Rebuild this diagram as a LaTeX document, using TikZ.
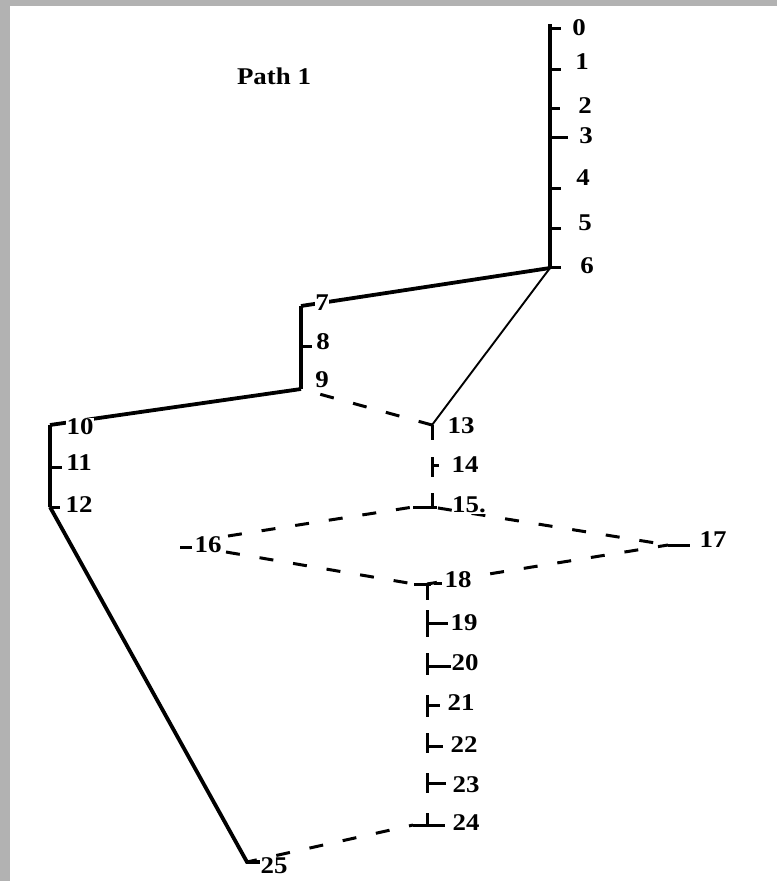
\documentclass[tikz,border=0pt]{standalone}
\usepackage{fontspec}
\setmainfont{Liberation Serif}[FakeStretch=1.12]
\definecolor{framegray}{RGB}{178,178,178}
\begin{document}
\begin{tikzpicture}[x=1pt,y=-1pt,
  heavy/.style={line width=4.8pt},
  mid/.style={line width=3.8pt},
  thinline/.style={line width=1.9pt},
  dline/.style={line width=3pt, dash pattern=on 14pt off 20pt},
  tickmark/.style={line width=3pt},
  lab/.style={font=\fontsize{24}{26}\selectfont\bfseries, inner sep=0.5pt},
  labw/.style={lab, fill=white}]
\fill[framegray] (0,0) rectangle (777,881);
\fill[white] (10,6) rectangle (777,881);
\useasboundingbox (0,0) rectangle (777,881);

% title
\node[lab] (title) at (274,76) {Path 1};

% vertices
\coordinate (p0) at (550,24);
\coordinate (p6) at (550,268);
\coordinate (p7) at (301,306);
\coordinate (p9) at (301,389);
\coordinate (p10) at (50,425);
\coordinate (p12) at (50,507);
\coordinate (p25) at (247,862);
\coordinate (p25e) at (260,862);
\coordinate (p13) at (432,425);
\coordinate (p15) at (432,507);
\coordinate (p15w) at (413,507);
\coordinate (p16u) at (228,536);
\coordinate (p16d) at (226,552);
\coordinate (p17) at (668,545);
\coordinate (p18) at (427,584);
\coordinate (p18w) at (414,584);
\coordinate (p24) at (427,825);
\coordinate (p24w) at (413,825);

% main vertical 0-6
\draw[heavy] (p0) -- (p6);
\foreach \yy/\xx in {28/561,69/561,108/560,137/568,188/561,228/561,267/561}
  \draw[tickmark] (550,\yy) -- (\xx,\yy);
\node[lab] (l0) at (579,28) {0};
\node[lab] (l1) at (582,62) {1};
\node[lab] (l2) at (585,106) {2};
\node[lab] (l3) at (586,136) {3};
\node[lab] (l4) at (583,178) {4};
\node[lab] (l5) at (585,223) {5};
\node[lab] (l6) at (587,266) {6};

% 6 -> 7, 7-9
\draw[mid] (p6) -- (p7);
\draw[mid] (p7) -- (p9);
\draw[tickmark] (301,346) -- (312,346);
\node[labw] (l7) at (322,303) {7};
\node[lab] (l8) at (323,342) {8};
\node[lab] (l9) at (322,380) {9};

% 9 -> 10, 10-12, 12 -> 25
\draw[mid] (p9) -- (p10);
\draw[mid] (p10) -- (p12);
\draw[mid] (p12) -- (p25) -- (p25e);
\draw[tickmark] (50,467) -- (62,467);
\draw[tickmark] (50,507) -- (60,507);
\node[labw] (l10) at (80,427) {10};
\node[lab] (l11) at (79,463) {11};
\node[lab] (l12) at (79,505) {12};

% 6 -> 13 and 9 -> 13
\draw[thinline] (p6) -- (p13);
\draw[dline, dash phase=-20pt] (p9) -- (p13);

% 13 - 15 column
\draw[tickmark] (p13) -- (432,440);
\draw[tickmark] (432,457) -- (432,477);
\draw[tickmark] (432,465) -- (439,465);
\draw[tickmark] (432,493) -- (p15);
\draw[tickmark] (p15w) -- (437,507);
\node[lab] (l13) at (461,426) {13};
\node[lab] (l14) at (465,465) {14};

% diamond
\draw[dline] (p16u) -- (p15w);
\draw[dline] (p16d) -- (p18w);
\draw[dline, dash phase=-40pt] (p15) -- (p17);
\draw[dline, dash phase=-30pt] (p18) -- (p17);
\draw[tickmark] (p17) -- (690,545);
\draw[tickmark] (180,547) -- (192,547);
\node[labw] (l15) at (469,505) {15.};
\node[lab] (l16) at (208,545) {16};
\node[lab] (l17) at (713,540) {17};

% 18 - 24 column
\draw[tickmark] (p18w) -- (431,584);
\draw[tickmark] (p18) -- (427,600);
\draw[tickmark] (434,583) -- (442,583);
\node[labw] (l18) at (458,580) {18};
\foreach \ya/\yb/\yt/\xe in {610/637/623/448, 653/675/666/451, 695/717/705/440, 733/753/746/443, 773/793/783/446}
{
  \draw[tickmark] (427,\ya) -- (427,\yb);
  \draw[tickmark] (427,\yt) -- (\xe,\yt);
}
\draw[tickmark] (427,813) -- (p24);
\draw[tickmark] (p24w) -- (445,825);
\node[lab] (l19) at (464,623) {19};
\node[lab] (l20) at (465,663) {20};
\node[lab] (l21) at (461,703) {21};
\node[lab] (l22) at (464,745) {22};
\node[lab] (l23) at (466,785) {23};
\node[lab] (l24) at (466,823) {24};

% 25 -> 24
\draw[dline, dash phase=-30pt] (p25) -- (p24w);
\node[labw] (l25) at (274,866) {25};
\end{tikzpicture}
\end{document}
